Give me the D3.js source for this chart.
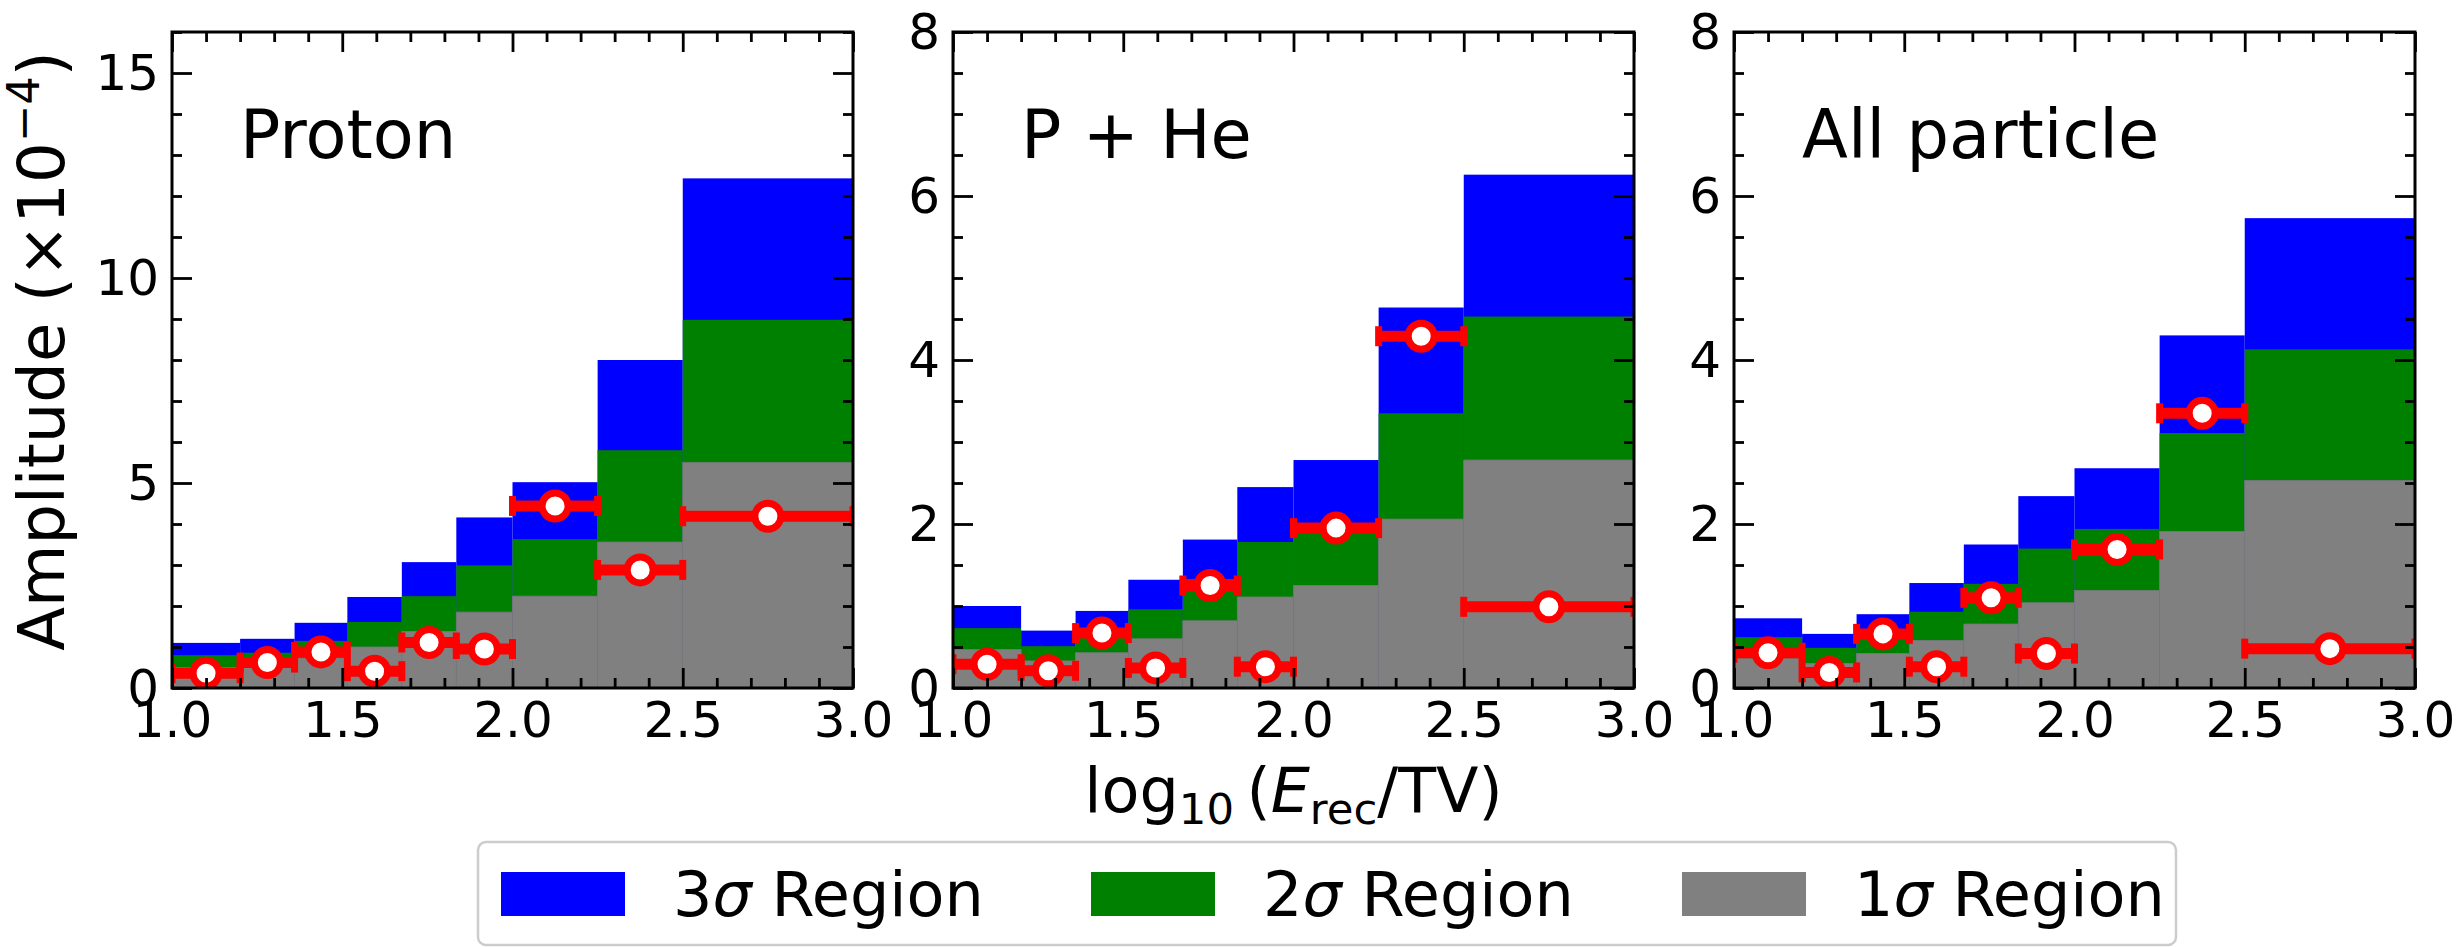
<!DOCTYPE html>
<html>
<head>
<meta charset="utf-8">
<script src="https://cdn.jsdelivr.net/npm/d3@7"></script>
<style>
  html, body { margin: 0; padding: 0; background: #fff; }
  svg { display: block; font-family: "DejaVu Sans", sans-serif; }
</style>
</head>
<body>
<svg id="chart" width="2458" height="947"></svg>
<script>
// ---------------- data ----------------
const binEdges = [1.0, 1.2, 1.36, 1.515, 1.675, 1.835, 2.0, 2.25, 2.5, 3.0];
const xTicks = [1.0, 1.5, 2.0, 2.5, 3.0];
const panelNames = ["Proton", "P + He", "All particle"];

const proton3sigma = [1.10, 1.20, 1.59, 2.22, 3.07, 4.16, 5.02, 8.00, 12.43];
const proton2sigma = [0.80, 0.86, 1.15, 1.61, 2.24, 2.99, 3.63, 5.80, 8.98];
const proton1sigma = [0.50, 0.55, 0.73, 1.00, 1.38, 1.85, 2.24, 3.56, 5.50];
const protonAmp    = [0.36, 0.62, 0.88, 0.41, 1.11, 0.95, 4.44, 2.88, 4.19];

const pHe3sigma = [1.00, 0.70, 0.94, 1.32, 1.81, 2.45, 2.78, 4.64, 6.26];
const pHe2sigma = [0.73, 0.51, 0.70, 0.96, 1.33, 1.78, 2.00, 3.35, 4.53];
const pHe1sigma = [0.47, 0.33, 0.43, 0.60, 0.82, 1.11, 1.25, 2.06, 2.78];
const pHeAmp    = [0.29, 0.21, 0.67, 0.245, 1.25, 0.26, 1.95, 4.29, 0.99];

const all3sigma = [0.85, 0.66, 0.90, 1.28, 1.75, 2.34, 2.68, 4.30, 5.73];
const all2sigma = [0.62, 0.49, 0.64, 0.93, 1.27, 1.70, 1.94, 3.11, 4.13];
const all1sigma = [0.36, 0.30, 0.42, 0.58, 0.78, 1.04, 1.19, 1.91, 2.53];
const allAmp    = [0.43, 0.19, 0.66, 0.26, 1.10, 0.42, 1.69, 3.35, 0.48];

const yMax = [16, 8, 8];
const yMajorTicks = [[0, 5, 10, 15], [0, 2, 4, 6, 8], [0, 2, 4, 6, 8]];
const yMinorStep = [1, 0.5, 0.5];

const legendLabels = ["3", "2", "1"];
const regionColors = ["#0000ff", "#008000", "#808080"];

const panelsData = [
  {name: panelNames[0], s3: proton3sigma, s2: proton2sigma, s1: proton1sigma, amp: protonAmp},
  {name: panelNames[1], s3: pHe3sigma, s2: pHe2sigma, s1: pHe1sigma, amp: pHeAmp},
  {name: panelNames[2], s3: all3sigma, s2: all2sigma, s1: all1sigma, amp: allAmp}
];

// ---------------- layout ----------------
const svg = d3.select("#chart");
const lefts = [172, 953, 1734];
const W = 681, plotTop = 32, H = 656;
const tickFont = 50, labelFont = 62, panelFont = 67;
const majorLen = 20, minorLen = 10, tickW = 2.8;

const bins = d3.range(binEdges.length - 1).map(i => ({lo: binEdges[i], hi: binEdges[i + 1]}));

panelsData.forEach((pd, pi) => {
  const g = svg.append("g").attr("transform", `translate(${lefts[pi]},${plotTop})`);
  const x = d3.scaleLinear().domain([1, 3]).range([0, W]);
  const y = d3.scaleLinear().domain([0, yMax[pi]]).range([H, 0]);

  const clipId = "clip" + pi;
  g.append("clipPath").attr("id", clipId).append("rect")
    .attr("x", 0).attr("y", 0).attr("width", W).attr("height", H);
  const plot = g.append("g").attr("clip-path", `url(#${clipId})`);

  // stacked region bars (drawn largest first)
  const levels = [pd.s3, pd.s2, pd.s1];
  levels.forEach((vals, li) => {
    plot.selectAll(null).data(bins).enter().append("rect")
      .attr("x", d => x(d.lo))
      .attr("width", d => x(d.hi) - x(d.lo))
      .attr("y", (d, i) => y(vals[i]))
      .attr("height", (d, i) => y(0) - y(vals[i]))
      .attr("fill", regionColors[li])
      .attr("stroke", li === 2 ? "#77777f" : "none")
      .attr("stroke-width", li === 2 ? 0.8 : 0);
  });

  // error bars
  const red = "#ff0000";
  const eg = plot.append("g");
  bins.forEach((b, i) => {
    const yy = y(pd.amp[i]);
    eg.append("line")
      .attr("x1", x(b.lo)).attr("x2", x(b.hi))
      .attr("y1", yy).attr("y2", yy)
      .attr("stroke", red).attr("stroke-width", 11);
    [b.lo, b.hi].forEach(v => {
      eg.append("line")
        .attr("x1", x(v)).attr("x2", x(v))
        .attr("y1", yy - 10).attr("y2", yy + 10)
        .attr("stroke", red).attr("stroke-width", 7);
    });
  });
  // markers
  plot.selectAll(null).data(bins).enter().append("circle")
    .attr("cx", d => x((d.lo + d.hi) / 2))
    .attr("cy", (d, i) => y(pd.amp[i]))
    .attr("r", 13)
    .attr("fill", "#fff")
    .attr("stroke", red)
    .attr("stroke-width", 7);

  // axes
  const yMinor = d3.range(0, yMax[pi] + 1e-9, yMinorStep[pi]).filter(v => !yMajorTicks[pi].some(m => Math.abs(m - v) < 1e-9));
  const xMinor = d3.range(1, 3.0001, 0.1).filter(v => !xTicks.some(m => Math.abs(m - v) < 1e-6));

  function styleAxis(sel) {
    sel.select(".domain").remove();
    sel.selectAll(".tick line").attr("stroke", "#000").attr("stroke-width", tickW);
    sel.selectAll(".tick text").attr("fill", "#000").attr("font-size", tickFont)
      .attr("font-family", "DejaVu Sans, sans-serif");
  }

  // bottom
  g.append("g").attr("transform", `translate(0,${H})`)
    .call(d3.axisBottom(x).tickValues(xTicks).tickFormat(d3.format(".1f")).tickSizeInner(-majorLen).tickSizeOuter(0).tickPadding(13))
    .call(styleAxis);
  g.append("g").attr("transform", `translate(0,${H})`)
    .call(d3.axisBottom(x).tickValues(xMinor).tickFormat("").tickSizeInner(-minorLen).tickSizeOuter(0))
    .call(styleAxis);
  // top
  g.append("g")
    .call(d3.axisTop(x).tickValues(xTicks).tickFormat("").tickSizeInner(-majorLen).tickSizeOuter(0))
    .call(styleAxis);
  g.append("g")
    .call(d3.axisTop(x).tickValues(xMinor).tickFormat("").tickSizeInner(-minorLen).tickSizeOuter(0))
    .call(styleAxis);
  // left
  g.append("g")
    .call(d3.axisLeft(y).tickValues(yMajorTicks[pi]).tickFormat(d3.format("d")).tickSizeInner(-majorLen).tickSizeOuter(0).tickPadding(13))
    .call(styleAxis);
  g.append("g")
    .call(d3.axisLeft(y).tickValues(yMinor).tickFormat("").tickSizeInner(-minorLen).tickSizeOuter(0))
    .call(styleAxis);
  // right
  g.append("g").attr("transform", `translate(${W},0)`)
    .call(d3.axisRight(y).tickValues(yMajorTicks[pi]).tickFormat("").tickSizeInner(-majorLen).tickSizeOuter(0))
    .call(styleAxis);
  g.append("g").attr("transform", `translate(${W},0)`)
    .call(d3.axisRight(y).tickValues(yMinor).tickFormat("").tickSizeInner(-minorLen).tickSizeOuter(0))
    .call(styleAxis);

  // frame
  g.append("rect").attr("x", 0).attr("y", 0).attr("width", W).attr("height", H)
    .attr("fill", "none").attr("stroke", "#000").attr("stroke-width", 3);

  // panel label
  g.append("text")
    .attr("x", 0.1 * W).attr("y", 158 - plotTop)
    .attr("font-size", panelFont).attr("fill", "#000")
    .text(pd.name);
});

// y axis label
const yLabelFont = 64;
const yl = svg.append("text")
  .attr("transform", `translate(64,351) rotate(-90)`)
  .attr("text-anchor", "middle")
  .attr("font-size", yLabelFont).attr("fill", "#000");
yl.append("tspan").text("Amplitude (×10");
yl.append("tspan").attr("dy", -25).attr("font-size", yLabelFont * 0.7).text("−4");
yl.append("tspan").attr("dy", 25).text(")");

// x axis label
const xl = svg.append("text")
  .attr("x", (lefts[1] + lefts[1] + W) / 2).attr("y", 812)
  .attr("text-anchor", "middle")
  .attr("font-size", labelFont).attr("fill", "#000");
xl.append("tspan").text("log");
xl.append("tspan").attr("dy", 12).attr("font-size", labelFont * 0.7).text("10");
xl.append("tspan").attr("dy", -12).text("\u2009(");
xl.append("tspan").attr("font-style", "italic").text("E");
xl.append("tspan").attr("dy", 12).attr("font-size", labelFont * 0.7).text("rec");
xl.append("tspan").attr("dy", -12).text("/TV)");

// legend
const legend = svg.append("g");
legend.append("rect")
  .attr("x", 478).attr("y", 842).attr("width", 2176 - 478).attr("height", 103)
  .attr("rx", 8).attr("ry", 8)
  .attr("fill", "#fff").attr("stroke", "#cccccc").attr("stroke-width", 2.5);
const legendX = [501, 1091, 1682];
legendLabels.forEach((lab, i) => {
  legend.append("rect")
    .attr("x", legendX[i]).attr("y", 872).attr("width", 124).attr("height", 44)
    .attr("fill", regionColors[i]);
  const t = legend.append("text")
    .attr("x", legendX[i] + 172).attr("y", 894).attr("dy", "0.35em")
    .attr("font-size", labelFont).attr("fill", "#000");
  t.append("tspan").text(lab);
  t.append("tspan").attr("font-style", "italic").text("σ");
  t.append("tspan").text(" Region");
});
</script>
</body>
</html>
